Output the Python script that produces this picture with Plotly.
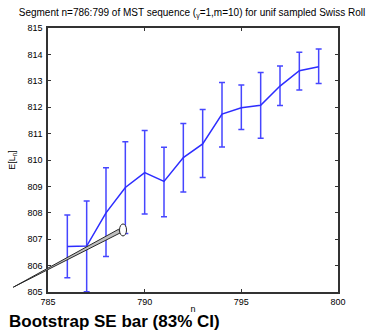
import plotly.graph_objects as go

# Segment of the MST length sequence with bootstrap SE bars
n = [786, 787, 788, 789, 790, 791, 792, 793, 794, 795, 796, 797, 798, 799]
mean_len = [806.72, 806.74, 808.00, 808.96, 809.52, 809.19, 810.09, 810.61,
            811.74, 811.98, 812.07, 812.80, 813.38, 813.53]
upper = [807.92, 808.45, 809.71, 810.69, 811.12, 810.48, 811.38, 811.91,
         812.94, 812.84, 813.31, 813.56, 814.08, 814.20]
lower = [805.54, 805.01, 806.34, 807.22, 807.95, 807.85, 808.79, 809.34,
         810.49, 811.16, 810.82, 812.06, 812.65, 812.90]

x_ticks = [785, 790, 795, 800]
y_ticks = [805, 806, 807, 808, 809, 810, 811, 812, 813, 814, 815]
x_range = [785, 800]
y_range = [805, 815]

# Hand-drawn pointer (data coordinates): tail, head and ellipse centre
pointer_tail = (783.2, 805.18)
pointer_head = (788.70, 807.31)
pointer_knob = (788.88, 807.35)

W, H = 371, 330
M = dict(l=48, r=33, t=28, b=38)
PW = W - M["l"] - M["r"]
PH = H - M["t"] - M["b"]

err_plus = [u - m for u, m in zip(upper, mean_len)]
err_minus = [m - lo for m, lo in zip(mean_len, lower)]

blue = "rgb(45,45,255)"
fig = go.Figure()
fig.add_trace(go.Scatter(
    x=n, y=mean_len, mode="lines",
    line=dict(color=blue, width=1.5),
    error_y=dict(type="data", symmetric=False, array=err_plus,
                 arrayminus=err_minus, color="rgb(70,70,255)",
                 thickness=1.5, width=3),
    showlegend=False,
))


def to_paper(pt):
    return ((pt[0] - x_range[0]) / (x_range[1] - x_range[0]),
            (pt[1] - y_range[0]) / (y_range[1] - y_range[0]))


tx, ty = to_paper(pointer_tail)
hx, hy = to_paper(pointer_head)
kx, ky = to_paper(pointer_knob)
# wedge widening toward the head (2 px each side, perpendicular)
dxp, dyp = (hx - tx) * PW, (hy - ty) * PH
ln = (dxp ** 2 + dyp ** 2) ** 0.5
ox, oy = -dyp / ln * 2.0 / PW, dxp / ln * 2.0 / PH
wedge = (f"M {tx},{ty} L {hx + ox},{hy + oy} L {hx - ox},{hy - oy} Z")
fig.add_shape(type="path", xref="paper", yref="paper", path=wedge,
              fillcolor="rgb(190,190,190)", line=dict(color="rgb(40,40,40)", width=1))
fig.add_shape(type="circle", xref="paper", yref="paper",
              x0=kx - 3.5 / PW, x1=kx + 3.5 / PW,
              y0=ky - 6 / PH, y1=ky + 6 / PH,
              fillcolor="white", line=dict(color="rgb(40,40,40)", width=1))

axis_common = dict(
    showline=True, mirror="ticks", linecolor="rgb(50,50,50)", linewidth=1.5,
    ticks="inside", ticklen=3, tickcolor="rgb(50,50,50)", showgrid=False,
    zeroline=False, automargin=False,
    tickfont=dict(family="Arial", size=9, color="black"),
)
fig.update_xaxes(range=x_range, tickvals=x_ticks, ticklabelstandoff=0,
                 title=dict(text="n", font=dict(family="Arial", size=9, color="black"),
                            standoff=0),
                 **axis_common)
fig.update_yaxes(range=y_range, tickvals=y_ticks, ticklabelstandoff=2,
                 title=dict(text="E[L<sub>n</sub>]",
                            font=dict(family="Arial", size=9, color="black"),
                            standoff=10),
                 **axis_common)

fig.update_layout(
    width=W, height=H, margin=M,
    paper_bgcolor="white", plot_bgcolor="white",
    title=dict(text="Segment n=786:799 of MST sequence (<sub>γ</sub>=1,m=10) for unif sampled Swiss Roll",
               x=192 / W, xref="container", xanchor="center",
               y=1 - 12 / H, yref="container", yanchor="middle",
               font=dict(family="Arial", size=10, color="black")),
    annotations=[dict(text="<b>Bootstrap SE bar (83% CI)</b>", xref="paper", yref="paper",
                      x=-(M["l"] - 7) / PW, y=-(321 - (H - M["b"])) / PH,
                      xanchor="left", yanchor="middle", showarrow=False,
                      font=dict(family="Arial", size=17, color="black"))],
)

fig.write_html("out.html")
